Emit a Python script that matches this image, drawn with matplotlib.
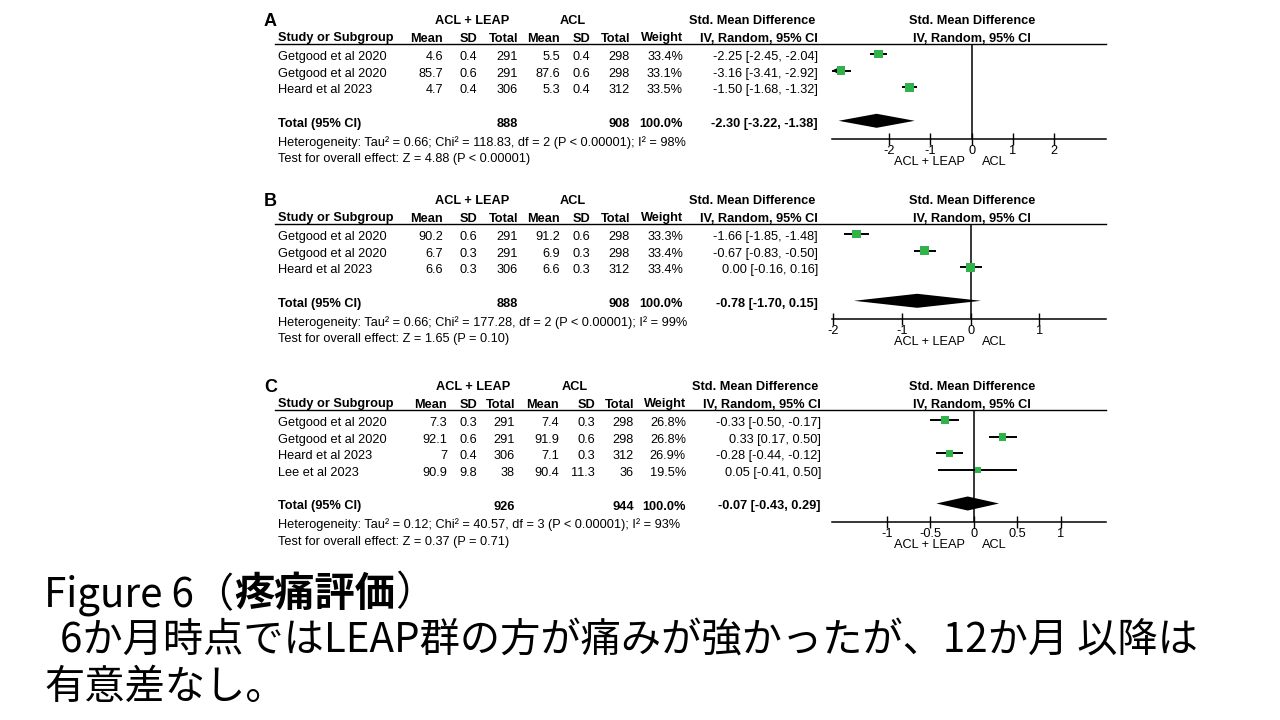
import matplotlib
matplotlib.use('Agg')
import matplotlib.pyplot as plt
from matplotlib.patches import Polygon
import numpy as np

plt.rcParams['font.family'] = ['Liberation Sans', 'DejaVu Sans']
FS = 9.2
GREEN = '#2fb34a'
JP = ['Liberation Sans Narrow', 'Noto Sans CJK JP', 'DejaVu Sans']

# ---- panel A
a_study = ['Getgood et al 2020', 'Getgood et al 2020', 'Heard et al 2023']
a_mean1 = [4.6, 85.7, 4.7]
a_sd1 = [0.4, 0.6, 0.4]
a_n1 = [291, 291, 306]
a_mean2 = [5.5, 87.6, 5.3]
a_sd2 = [0.4, 0.6, 0.4]
a_n2 = [298, 298, 312]
a_weight = [33.4, 33.1, 33.5]
a_smd = [-2.25, -3.16, -1.50]
a_lo = [-2.45, -3.41, -1.68]
a_hi = [-2.04, -2.92, -1.32]
a_total = [888, 908, -2.30, -3.22, -1.38]   # n1, n2, smd, lo, hi
a_het = ['0.66', '118.83', 2, '98']          # tau2, chi2, df, I2
a_test = ['4.88', 'P < 0.00001']
a_ticks = [-2, -1, 0, 1, 2]

# ---- panel B
b_study = ['Getgood et al 2020', 'Getgood et al 2020', 'Heard et al 2023']
b_mean1 = [90.2, 6.7, 6.6]
b_sd1 = [0.6, 0.3, 0.3]
b_n1 = [291, 291, 306]
b_mean2 = [91.2, 6.9, 6.6]
b_sd2 = [0.6, 0.3, 0.3]
b_n2 = [298, 298, 312]
b_weight = [33.3, 33.4, 33.4]
b_smd = [-1.66, -0.67, 0.00]
b_lo = [-1.85, -0.83, -0.16]
b_hi = [-1.48, -0.50, 0.16]
b_total = [888, 908, -0.78, -1.70, 0.15]
b_het = ['0.66', '177.28', 2, '99']
b_test = ['1.65', 'P = 0.10']
b_ticks = [-2, -1, 0, 1]

# ---- panel C
c_study = ['Getgood et al 2020', 'Getgood et al 2020', 'Heard et al 2023', 'Lee et al 2023']
c_mean1 = [7.3, 92.1, 7, 90.9]
c_sd1 = [0.3, 0.6, 0.4, 9.8]
c_n1 = [291, 291, 306, 38]
c_mean2 = [7.4, 91.9, 7.1, 90.4]
c_sd2 = [0.3, 0.6, 0.3, 11.3]
c_n2 = [298, 298, 312, 36]
c_weight = [26.8, 26.8, 26.9, 19.5]
c_smd = [-0.33, 0.33, -0.28, 0.05]
c_lo = [-0.50, 0.17, -0.44, -0.41]
c_hi = [-0.17, 0.50, -0.12, 0.50]
c_total = [926, 944, -0.07, -0.43, 0.29]
c_het = ['0.12', '40.57', 3, '93']
c_test = ['0.37', 'P = 0.71']
c_ticks = [-1, -0.5, 0, 0.5, 1]

W, H = 1280, 720
fig = plt.figure(figsize=(12.8, 7.2), dpi=100)
bg = fig.add_axes([0, 0, 1, 1])
bg.set_xlim(0, W)
bg.set_ylim(H, 0)
bg.axis('off')


def txt(x, y, s, ha='right', bold=False, fs=FS, va='center_baseline'):
    bg.text(x, y, s, ha=ha, va=va, fontsize=fs,
            fontweight='bold' if bold else 'normal', color='black')


def panel(top, letter, study, mean1, sd1, n1, mean2, sd2, n2, weight,
          smd, lo, hi, total, het, test, xlim, ticks, cols):
    step = 16.7
    n = len(study)
    line_y = top + 24
    row0 = top + 34
    tot_y = row0 + step * (n + 1)
    axis_y = tot_y + 18
    c_m1, c_s1, c_n1, c_m2, c_s2, c_n2, c_w, c_ci = cols

    # headers
    txt(264, top, letter, ha='left', bold=True, fs=13)
    txt((c_m1 + c_n1) / 2 - 8, top, 'ACL + LEAP', ha='center', bold=True)
    txt((c_m2 + c_s2) / 2 - 2, top, 'ACL', ha='center', bold=True)
    txt(c_ci - 66, top, 'Std. Mean Difference', ha='center', bold=True)
    txt(972, top, 'Std. Mean Difference', ha='center', bold=True)
    hy = top + 17
    txt(278, hy, 'Study or Subgroup', ha='left', bold=True)
    for x, s in zip(cols, ['Mean', 'SD', 'Total', 'Mean', 'SD', 'Total', 'Weight',
                           'IV, Random, 95% CI']):
        txt(x, hy, s, bold=True)
    txt(972, hy, 'IV, Random, 95% CI', ha='center', bold=True)
    bg.plot([275, 1106], [line_y, line_y], color='black', lw=1.0)

    # study rows
    for i in range(n):
        y = row0 + step * i + 1.5
        txt(278, y, study[i], ha='left')
        txt(c_m1, y, str(mean1[i]))
        txt(c_s1, y, str(sd1[i]))
        txt(c_n1, y, str(n1[i]))
        txt(c_m2, y, str(mean2[i]))
        txt(c_s2, y, str(sd2[i]))
        txt(c_n2, y, str(n2[i]))
        txt(c_w, y, f'{weight[i]:.1f}%')
        txt(c_ci, y, f'{smd[i]:.2f} [{lo[i]:.2f}, {hi[i]:.2f}]')

    y = tot_y + 1.5
    txt(278, y, 'Total (95% CI)', ha='left', bold=True)
    txt(c_n1, y, str(total[0]), bold=True)
    txt(c_n2, y, str(total[1]), bold=True)
    txt(c_w, y, '100.0%', bold=True)
    txt(c_ci, y, f'{total[2]:.2f} [{total[3]:.2f}, {total[4]:.2f}]', bold=True)
    txt(278, tot_y + 20,
        f'Heterogeneity: Tau\u00b2 = {het[0]}; Chi\u00b2 = {het[1]}, df = {het[2]} '
        f'(P < 0.00001); I\u00b2 = {het[3]}%', ha='left')
    txt(278, tot_y + 37, f'Test for overall effect: Z = {test[0]} ({test[1]})', ha='left')

    # forest plot
    ax = fig.add_axes([832 / W, 1 - axis_y / H, 274 / W, (axis_y - line_y) / H])
    ax.patch.set_alpha(0)
    ax.set_xlim(xlim)
    ax.set_ylim((axis_y - row0) / step, (line_y - row0) / step)
    rows = np.arange(n)
    for i in rows:
        left = max(lo[i], xlim[0])
        ax.plot([left, hi[i]], [i, i], color='black', lw=1.4, solid_capstyle='butt')
        if lo[i] < xlim[0]:
            ax.annotate('', xy=(xlim[0], i), xytext=(smd[i], i),
                        arrowprops=dict(arrowstyle='-|>', color='black', lw=1.4,
                                        mutation_scale=9, shrinkA=0, shrinkB=0))
    sizes = [(6.2 * np.sqrt(w / 33.4)) ** 2 for w in weight]
    ax.scatter(smd, rows, s=sizes, marker='s', color=GREEN, zorder=3, linewidths=0)
    ty = n + 1
    ax.add_patch(Polygon([(total[3], ty), (total[2], ty - 0.42), (total[4], ty),
                          (total[2], ty + 0.42)], closed=True, color='black', lw=0))
    ax.axvline(0, color='black', lw=1.1)
    for side in ['top', 'left', 'right']:
        ax.spines[side].set_visible(False)
    ax.spines['bottom'].set_linewidth(1.1)
    ax.set_yticks([])
    ax.set_xticks(ticks, labels=[f'{t:g}' for t in ticks])
    ax.tick_params(axis='x', direction='inout', length=8, width=1, labelsize=FS, pad=0.5)
    txt(965, axis_y + 22, 'ACL + LEAP', ha='right')
    txt(982, axis_y + 22, 'ACL', ha='left')


cols_ab = [443, 477, 518, 560, 590, 630, 683, 818]
cols_c = [447, 477, 515, 559, 595, 634, 686, 821]

panel(20, 'A', a_study, a_mean1, a_sd1, a_n1, a_mean2, a_sd2, a_n2, a_weight,
      a_smd, a_lo, a_hi, a_total, a_het, a_test, (-3.38, 3.25), a_ticks, cols_ab)
panel(200, 'B', b_study, b_mean1, b_sd1, b_n1, b_mean2, b_sd2, b_n2, b_weight,
      b_smd, b_lo, b_hi, b_total, b_het, b_test, (-2.02, 1.97), b_ticks, cols_ab)
panel(386, 'C', c_study, c_mean1, c_sd1, c_n1, c_mean2, c_sd2, c_n2, c_weight,
      c_smd, c_lo, c_hi, c_total, c_het, c_test, (-1.63, 1.52), c_ticks, cols_c)

# caption
JFS = 29
t1 = bg.text(44, 594, 'Figure 6（', family=JP, fontsize=JFS, va='center', ha='left')
t2 = bg.annotate('疼痛評価', xy=(1, 0.5), xycoords=t1, family=JP, fontsize=JFS,
                 va='center', ha='left', fontweight='bold')
bg.annotate('）', xy=(1, 0.5), xycoords=t2, family=JP, fontsize=JFS,
            va='center', ha='left')
bg.text(60, 640, '6か月時点ではLEAP群の方が痛みが強かったが、12か月 以降は',
        family=JP, fontsize=JFS, va='center', ha='left')
bg.text(44, 687, '有意差なし。', family=JP, fontsize=JFS, va='center', ha='left')

fig.savefig('out.png', dpi=100, facecolor='white')
